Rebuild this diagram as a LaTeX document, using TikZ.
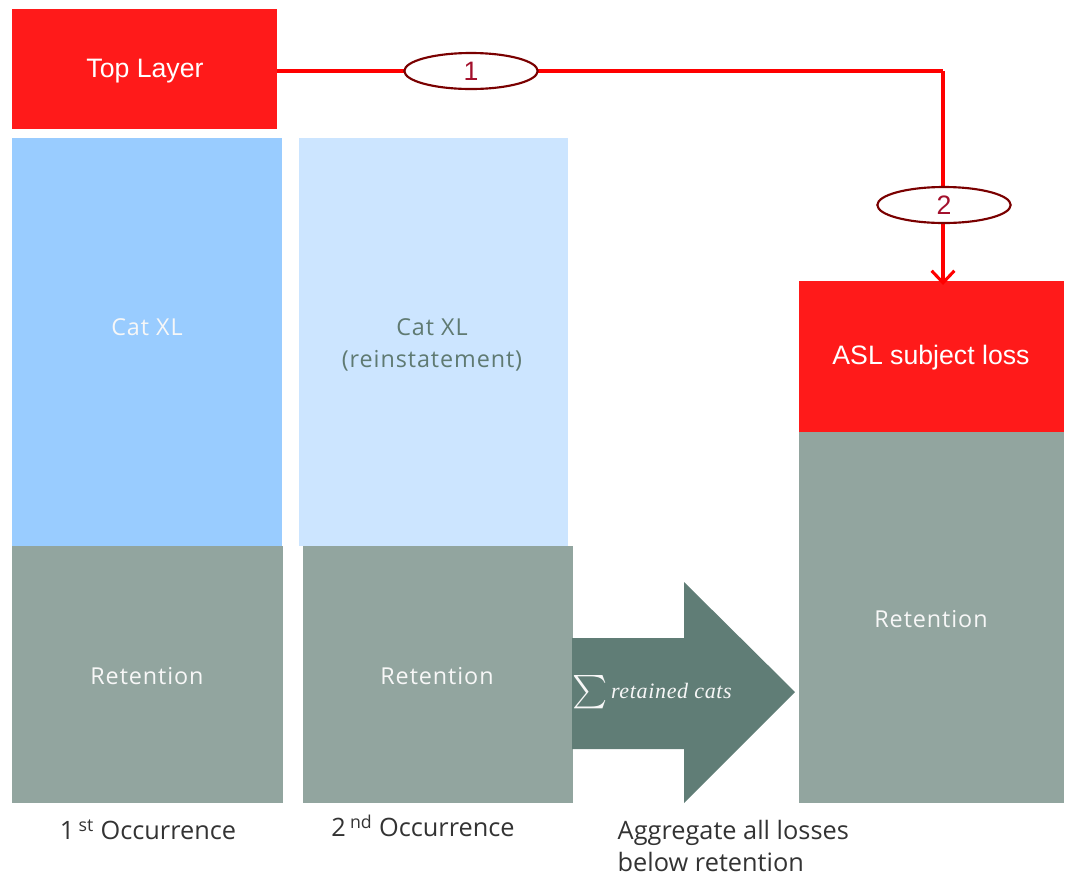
\documentclass[tikz,border=0pt]{standalone}
\usepackage{fontspec}
\usepackage{graphicx}
\setmainfont{Open Sans}
\newfontfamily\arialfont{Liberation Sans}
\newfontfamily\spacedfont[LetterSpace=4]{Open Sans}
\newfontfamily\sumfont[LetterSpace=3]{Liberation Serif}
\usetikzlibrary{arrows.meta,shapes.geometric}
\definecolor{toprred}{HTML}{FF1A1A}
\definecolor{catblue}{HTML}{99CCFF}
\definecolor{paleblue}{HTML}{CCE5FF}
\definecolor{retgray}{HTML}{92A59F}
\definecolor{arrowgreen}{HTML}{607D76}
\definecolor{darkgreen}{HTML}{5F7A72}
\definecolor{ovalred}{HTML}{7A0000}
\definecolor{numred}{HTML}{A3102C}
\definecolor{labelgray}{HTML}{333333}
\tikzset{
  block/.style={inner sep=0pt, outer sep=0pt},
  boldred/.style={block, text=white, font=\arialfont\fontsize{20}{22}\selectfont},
  lighttext/.style={block, text=white!94!gray, font=\spacedfont\fontsize{17.5}{24}\selectfont, align=center},
  oval/.style={ellipse, draw=ovalred, line width=1.6pt, fill=white, minimum width=100pt, minimum height=27pt, inner sep=0pt, text=numred, font=\arialfont\fontsize{20}{22}\selectfont},
  link/.style={draw=red, line width=2.3pt},
  caption/.style={text=labelgray, font=\fontsize{19}{23.5}\selectfont, align=left}
}
\begin{document}
\begin{tikzpicture}[x=0.75pt, y=-0.75pt]
\useasboundingbox (0,0) rectangle (1067,879);

% coloured blocks
\fill[toprred]   (12,9)    rectangle (277,129);
\fill[catblue]   (12,138)  rectangle (282,546);
\fill[retgray]   (12,546)  rectangle (283,803);
\fill[paleblue]  (299,138) rectangle (568,546);
\fill[retgray]   (303,546) rectangle (573,803);
\fill[toprred]   (799,281) rectangle (1064,432);
\fill[retgray]   (799,432) rectangle (1064,803);

% aggregation arrow
\fill[arrowgreen] (572,638) -- (684,638) -- (684,582) -- (795,692) -- (684,803) -- (684,749) -- (572,749) -- cycle;

% block labels
\node[boldred] (top) at (145,71) {Top Layer};
\coordinate (topE) at (277,71);
\node[lighttext] (cat1) at (147,327) {Cat XL};
\node[lighttext, text=darkgreen] (cat2) at (432,345) {Cat XL\\(reinstatement)};
\node[lighttext] (ret1) at (147,676) {Retention};
\node[lighttext] (ret2) at (437,676) {Retention};
\node[lighttext] (ret3) at (931,619) {Retention};
\node[boldred] (asl) at (931,358) {ASL subject loss};
\coordinate (aslT) at (943,285);
\node[block, text=white!94!gray, font=\sumfont\itshape\fontsize{16.5}{20}\selectfont] (sum) at (652,692)
  {\raisebox{-0.75ex}{\scalebox{2.5}{$\sum$}}\,retained cats};

% connector from the top layer to the subject loss
\coordinate (corner) at (943,71);
\draw[link] (topE) -- (corner);
\draw[link, -{Straight Barb[length=9pt, width=17pt, line width=2.3pt]}] (corner) -- (aslT);
\node[oval] (o1) at (471,71) {1};
\node[oval] (o2) at (944,205) {2};

% captions
\node[caption] (c1) at (148,830) {1\,\textsuperscript{st} Occurrence};
\node[caption] (c2) at (423,826) {2\,\textsuperscript{nd} Occurrence};
\node[caption, anchor=west] (c3) at (613,846) {Aggregate all losses\\below retention};
\end{tikzpicture}
\end{document}
